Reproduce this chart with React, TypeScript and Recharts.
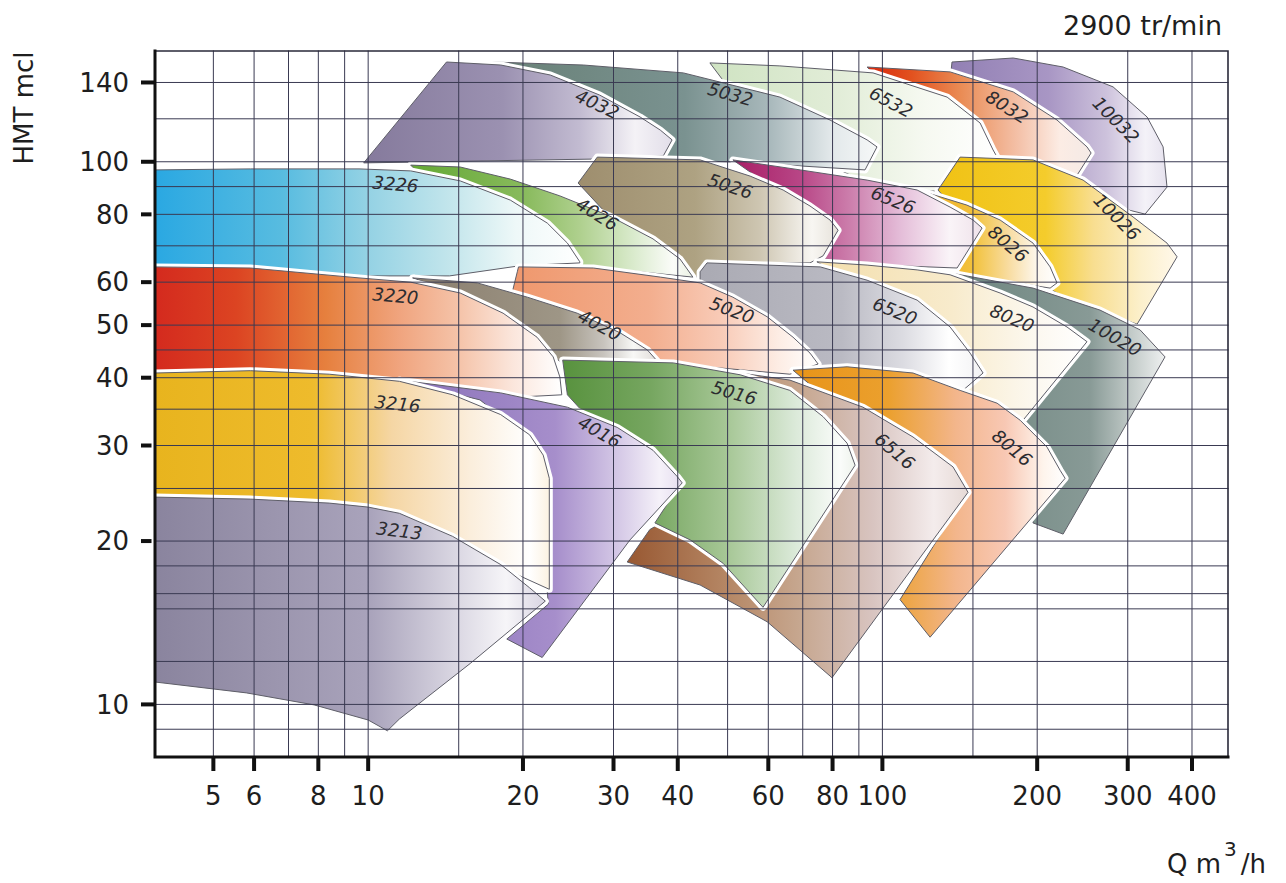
import React from "react"
import { ScatterChart, Scatter, XAxis, YAxis } from "recharts"

type Pt = [number, number]

const FONT = "'DejaVu Sans', 'Liberation Sans', sans-serif"

// axes (log / log)
const Q_DOMAIN: [number, number] = [3.85, 470]
const H_DOMAIN: [number, number] = [8, 160]
const Q_TICKS = [5, 6, 8, 10, 20, 30, 40, 60, 80, 100, 200, 300, 400]
const H_TICKS = [10, 20, 30, 40, 50, 60, 80, 100, 140]
const Q_GRID = [5, 6, 7, 8, 9, 10, 15, 20, 30, 40, 50, 60, 70, 80, 90, 100, 150, 200, 300, 400]
const H_GRID = [9, 10, 12, 15, 16, 18, 20, 25, 30, 35, 40, 45, 50, 60, 70, 80, 90, 100, 120, 140]

// pump ranges: corners as [Q m3/h, HMT mcl]
const R4032: Pt[] = [[14.2, 152.7], [18.1, 150.8], [22.6, 144.5], [28.2, 132.7], [33.8, 120.9], [37, 114.4], [39, 109.7], [37.5, 102.5], [27.9, 101.2], [9.8, 99.5]]
const R5032: Pt[] = [[17.4, 152.7], [26.2, 150.8], [41, 145.8], [63.2, 131.6], [79.1, 119.4], [93.4, 109.7], [97.6, 106.5], [92.5, 96.6], [51.7, 99.9], [28.2, 101.6], [21.6, 124.5]]
const R6532: Pt[] = [[46.2, 152.1], [63.2, 150.2], [95.9, 145.8], [133.6, 131.6], [154.9, 117.9], [164.2, 105.1], [167.1, 102], [151.4, 88.7], [108.2, 88], [94.6, 90.6], [69.2, 105.1], [50.6, 135.6]]
const R8032: Pt[] = [[93.4, 149.5], [135.4, 146.4], [179.6, 134.5], [218.6, 119.4], [250, 106.5], [254.6, 103.8], [239.1, 94.5], [169.4, 94.5], [141.6, 100.8], [108.2, 129.9]]
const R10032: Pt[] = [[136.6, 152.7], [179.6, 155.3], [224.6, 149.5], [281, 137.4], [327.2, 120.9], [351.4, 106.5], [357.7, 89.8], [324.3, 80.1], [265, 84], [211.9, 96.6], [169.4, 105.1], [141.6, 129.9], [136, 147]]

const R3226: Pt[] = [[3.85, 96.6], [5.9, 97], [9.6, 97], [12.1, 96.2], [15.1, 92.2], [18.9, 85], [22.3, 77.1], [24.4, 70.8], [25.8, 65.4], [25.8, 65.1], [19.7, 64.3], [14.4, 61.6], [9.6, 61.6], [5.9, 63.2], [3.85, 63.7]]
const R4026: Pt[] = [[12.1, 98.6], [15.1, 97.8], [18.9, 92.9], [23.6, 86.5], [29.5, 79.4], [35.8, 72.1], [40.4, 66.2], [42.8, 61.3], [33.8, 62.7], [25.8, 64.3], [19.7, 64.3], [16.5, 74.8], [13.2, 90.6]]
const R5026: Pt[] = [[27.9, 102], [44.2, 100.8], [55.3, 94.1], [64.1, 88.7], [72.3, 82.9], [79.1, 78.1], [82, 74.8], [76.7, 67.1], [72.3, 65.1], [46.9, 65.1], [43.6, 61.3], [33.8, 68.8], [25.6, 91.4]]
const R6526: Pt[] = [[51.2, 100.8], [69.2, 96.6], [93.4, 92.5], [116.8, 88.7], [135.4, 82.5], [150.1, 78.1], [156.3, 75.5], [139.7, 63.7], [99, 64.5], [74, 66.5], [66.1, 85]]
const R8026: Pt[] = [[117.3, 88.7], [146, 83.2], [169.4, 78.1], [196.3, 70.8], [211.9, 64], [218.6, 59.8], [211.9, 58.5], [169.4, 60.5], [139.7, 62.7], [129.5, 74.8]]
const R10026: Pt[] = [[141.6, 102], [196.3, 100.8], [245.6, 92.5], [307.3, 79.1], [357.7, 70.8], [374.2, 66.8], [312.9, 50.2], [265, 53.1], [218.6, 57.3], [169.4, 65.9], [128.3, 88.7]]

const R3220: Pt[] = [[3.85, 64], [5.9, 63.7], [9.6, 61.1], [12.1, 60], [15.1, 57.3], [18.3, 52.6], [21.3, 47.5], [22.9, 43.7], [23.6, 40.1], [23.8, 37.2], [18.1, 36.7], [11.5, 38.6], [7.4, 39.6], [3.85, 39.9]]
const R4020: Pt[] = [[12.2, 61.1], [16.3, 59.8], [20.4, 56.3], [25.5, 52.6], [30.9, 48.4], [34.9, 45], [36.6, 42.8], [28.2, 42.6], [23.8, 42.6], [19.7, 49], [14.4, 58]]
const R5020: Pt[] = [[19.6, 64], [27.4, 63.7], [37, 61.3], [44.2, 59.8], [51.2, 56.3], [59.7, 51.8], [67, 47.5], [72.3, 44.4], [75, 42.4], [66.1, 40.6], [44.2, 42], [30.9, 42.4], [24.7, 42.8], [18.9, 55.6], [19.5, 62.7]]
const R6520: Pt[] = [[45.6, 65.1], [59.7, 64.5], [75.7, 64], [93.4, 60.5], [116.8, 55.6], [135.4, 49.6], [148.1, 44.4], [157, 40.8], [142.9, 37.8], [114.7, 40.1], [86.5, 41.5], [69.2, 41], [66.1, 43.1], [52.9, 53.3], [44.2, 58.5], [44.2, 62.7]]
const R8020: Pt[] = [[74.6, 65.4], [93.4, 64.5], [116.8, 63.2], [135.4, 61.9], [169.4, 57.3], [196.3, 54], [228.6, 49.6], [250, 46.6], [185.3, 32.9], [167.1, 35.6], [141.6, 37.6], [123.8, 49], [86.5, 60.5]]
const R10020: Pt[] = [[135.4, 62.4], [196.3, 58.5], [265, 53.3], [317.1, 49], [354.5, 43.7], [224.6, 20.6], [196.3, 21.6], [189.4, 32], [193.7, 36.4], [169.4, 55.6]]

const R3216: Pt[] = [[3.85, 40.8], [5.9, 41.2], [8.4, 40.6], [11.5, 39.4], [14.6, 37.2], [18.1, 34.2], [20.6, 31.4], [21.9, 28.8], [22.5, 26.1], [22.5, 16.3], [18.1, 17.9], [14.6, 20], [11.5, 22.1], [8.4, 23.1], [5.9, 23.5], [3.85, 23.6]]
const R4016: Pt[] = [[11.5, 39.6], [18.1, 37.5], [24.4, 35.3], [30.5, 32.4], [35.8, 29.4], [39.9, 26.3], [40.8, 25.6], [32.3, 20.1], [21.8, 12.2], [18.6, 13.2], [22.4, 15.3], [21.6, 23.8], [20.6, 30.7], [16.5, 36.4]]
const R5016: Pt[] = [[23.9, 43.1], [39.2, 42.6], [52.9, 40.5], [66.1, 37.9], [76.7, 33.9], [85.4, 30.3], [88.5, 27.6], [58.6, 15.1], [49, 18.2], [42.3, 20.1], [36.1, 21.6], [40.4, 25.4], [28.2, 32], [24.4, 37.2]]
const R6516: Pt[] = [[52.9, 40.8], [66.1, 39.6], [91.7, 35.3], [114.7, 31.1], [137.2, 27.4], [146.7, 24.6], [79.8, 11.2], [59.7, 14.2], [44.2, 16.6], [31.9, 18.3], [35.3, 21], [44.2, 23.8], [52.9, 33.4]]
const R8016: Pt[] = [[67, 41.3], [85.4, 41.9], [114.7, 40.8], [141.6, 37.9], [167.1, 35.9], [185.3, 33.4], [209, 29.8], [221.6, 27], [226.6, 26.1], [123.8, 13.3], [108.2, 15.6], [142.9, 23.8], [123.8, 27], [82.7, 34.9]]
const R3213: Pt[] = [[3.85, 24.1], [5.9, 23.9], [8.4, 23.5], [10, 23.1], [11.5, 22.5], [14.6, 20.4], [18.1, 18.1], [20.6, 16.4], [22.1, 15.5], [15.8, 11.9], [11.5, 9.4], [10.9, 8.94], [10, 9.36], [7.85, 9.98], [5.8, 10.5], [3.85, 11]]

// back to front: top row first, right to left inside a row
const TILES: { name: string; pts: Pt[] }[] = [
  { name: "10032", pts: R10032 }, { name: "8032", pts: R8032 }, { name: "6532", pts: R6532 },
  { name: "5032", pts: R5032 }, { name: "4032", pts: R4032 },
  { name: "10026", pts: R10026 }, { name: "8026", pts: R8026 }, { name: "6526", pts: R6526 },
  { name: "5026", pts: R5026 }, { name: "4026", pts: R4026 }, { name: "3226", pts: R3226 },
  { name: "10020", pts: R10020 }, { name: "8020", pts: R8020 }, { name: "6520", pts: R6520 },
  { name: "5020", pts: R5020 }, { name: "4020", pts: R4020 }, { name: "3220", pts: R3220 },
  { name: "8016", pts: R8016 }, { name: "6516", pts: R6516 }, { name: "5016", pts: R5016 },
  { name: "4016", pts: R4016 }, { name: "3216", pts: R3216 },
  { name: "3213", pts: R3213 },
]

// where each model number sits (Q, H)
const LABELS = [
  { name: "4032", q: 27.9, h: 127.8 }, { name: "5032", q: 50.6, h: 133.3 }, { name: "6532", q: 104, h: 128.9 },
  { name: "8032", q: 174.8, h: 126.2 }, { name: "10032", q: 284.7, h: 119.4 },
  { name: "3226", q: 11.3, h: 91 }, { name: "4026", q: 27.9, h: 80.1 }, { name: "5026", q: 50.6, h: 90.2 },
  { name: "6526", q: 104.9, h: 85 }, { name: "8026", q: 175.6, h: 70.6 }, { name: "10026", q: 286, h: 79.1 },
  { name: "3220", q: 11.3, h: 56.6 }, { name: "4020", q: 28.2, h: 50 }, { name: "5020", q: 51, h: 53.3 },
  { name: "6520", q: 105.8, h: 53.1 }, { name: "8020", q: 178.8, h: 51.5 }, { name: "10020", q: 283.5, h: 47.5 },
  { name: "3216", q: 11.4, h: 35.8 }, { name: "4016", q: 28.2, h: 31.8 }, { name: "5016", q: 51.5, h: 37.5 },
  { name: "6516", q: 105.8, h: 29.3 }, { name: "8016", q: 178.8, h: 29.7 },
  { name: "3213", q: 11.5, h: 20.9 },
]

const LABEL_TILT: Record<string, number> = {
  "4032": 25, "5032": 15, "6532": 28, "8032": 32, "10032": 45,
  "3226": 5, "4026": 32, "5026": 18, "6526": 22, "8026": 40, "10026": 45,
  "3220": 5, "4020": 28, "5020": 20, "6520": 22, "8020": 22, "10020": 30,
  "3216": 6, "4016": 30, "5016": 16, "6516": 40, "8016": 40, "3213": 7,
}

// left-to-right colour washes, fading to white at the high-flow end
const FILLS: Record<string, [number, string][]> = {
  "4032": [[0, "#857a9c"], [0.45, "#9b91b1"], [0.7, "#c2bbd1"], [0.88, "#f4f2f6"], [1, "#e2dee9"]],
  "5032": [[0, "#688076"], [0.5, "#7a9290"], [0.72, "#a8b8bb"], [0.88, "#e2e8ea"], [1, "#f6f8f8"]],
  "6532": [[0, "#cfe3c2"], [0.45, "#e2edd8"], [0.75, "#f6f9f1"], [1, "#ffffff"]],
  "8032": [[0, "#d8280e"], [0.2, "#e2521f"], [0.42, "#ea8c55"], [0.68, "#f4c2aa"], [0.86, "#fcece4"], [1, "#f4eae6"]],
  "10032": [[0, "#9280b4"], [0.45, "#a896c4"], [0.72, "#cdc2dc"], [0.9, "#f4f2f8"], [1, "#e6e2ee"]],
  "3226": [[0, "#2aa8e2"], [0.3, "#58bce0"], [0.5, "#94d2e4"], [0.7, "#c4e6ec"], [0.85, "#eef8f8"], [1, "#ffffff"]],
  "4026": [[0, "#64a834"], [0.4, "#88ba5c"], [0.6, "#afd08e"], [0.8, "#dcecd0"], [0.93, "#fbfcf9"], [1, "#eaf1e3"]],
  "5026": [[0, "#9e8e6e"], [0.45, "#aea282"], [0.7, "#cec6b2"], [0.9, "#f8f6f2"], [1, "#e6e2da"]],
  "6526": [[0, "#a81e66"], [0.27, "#b84686"], [0.47, "#cc7eac"], [0.67, "#e4bcd8"], [0.87, "#faf4f8"], [1, "#efe2ea"]],
  "8026": [[0, "#eca824"], [0.4, "#f2c23c"], [0.65, "#f8dca0"], [0.85, "#fdf6ea"], [1, "#ffffff"]],
  "10026": [[0, "#f0c214"], [0.45, "#f4cc2c"], [0.65, "#f8de90"], [0.85, "#fcf0cc"], [1, "#fff8ea"]],
  "3220": [[0, "#d42a1e"], [0.2, "#dc4422"], [0.42, "#e6803e"], [0.6, "#f0a47e"], [0.75, "#f5c4aa"], [0.88, "#fbe6dc"], [1, "#ffffff"]],
  "4020": [[0, "#8a7e6e"], [0.6, "#9e9686"], [0.78, "#c8c4be"], [0.9, "#f8f8f6"], [1, "#e0dcd8"]],
  "5020": [[0, "#ef976c"], [0.45, "#f3ae8e"], [0.68, "#f8cab6"], [0.88, "#fdeee6"], [1, "#ffffff"]],
  "6520": [[0, "#aaaab3"], [0.5, "#babac3"], [0.72, "#dcdce2"], [0.88, "#ffffff"], [1, "#f2f2f4"]],
  "8020": [[0, "#f3deac"], [0.5, "#f8ebcc"], [0.8, "#fcf8ef"], [1, "#ffffff"]],
  "10020": [[0, "#6c847e"], [0.65, "#889a96"], [0.85, "#c4ccca"], [1, "#eef0f0"]],
  "3216": [[0, "#e8b41e"], [0.4, "#eebb2c"], [0.6, "#f5d6a4"], [0.8, "#fbeedc"], [0.95, "#ffffff"], [1, "#fbf2e2"]],
  "4016": [[0, "#8870b8"], [0.55, "#a68ecb"], [0.78, "#d6cae7"], [0.92, "#f5f1f9"], [1, "#e6def0"]],
  "5016": [[0, "#58923e"], [0.3, "#76a660"], [0.57, "#a8c898"], [0.8, "#dceada"], [0.95, "#fafcfa"], [1, "#eef3ec"]],
  "6516": [[0, "#985832"], [0.3, "#b68866"], [0.5, "#c6a68e"], [0.72, "#d8c4c0"], [0.9, "#f4ecec"], [1, "#e6dad6"]],
  "8016": [[0, "#e89418"], [0.35, "#eba02e"], [0.6, "#f3b68c"], [0.78, "#f8c8b4"], [0.92, "#fef4ec"], [1, "#ffffff"]],
  "3213": [[0, "#8a849e"], [0.55, "#a9a3bb"], [0.78, "#dcd9e4"], [0.9, "#f6f5f8"], [1, "#d9d5e2"]],
}

const noDot = () => <g />

function tileLine(name: string) {
  return (props: any) => {
    const pts: { x: number; y: number }[] = props.points || []
    if (!pts.length) return <g />
    const d = pts.map((p, i) => `${i ? "L" : "M"}${p.x.toFixed(1)},${p.y.toFixed(1)}`).join("") + "Z"
    return (
      <g>
        <path d={d} fill="none" stroke="#ffffff" strokeWidth={7} strokeLinejoin="round" />
        <path d={d} fill={`url(#fill-${name})`} stroke="#5e5e68" strokeWidth={1} strokeLinejoin="round" />
      </g>
    )
  }
}

// draws point pairs as separate segments
function segments(stroke: string, width: number) {
  return (props: any) => {
    const pts: { x: number; y: number }[] = props.points || []
    let d = ""
    for (let i = 0; i + 1 < pts.length; i += 2) d += `M${pts[i].x},${pts[i].y}L${pts[i + 1].x},${pts[i + 1].y}`
    return <path d={d} fill="none" stroke={stroke} strokeWidth={width} strokeLinecap="square" />
  }
}

const modelLabel = (props: any) => {
  const { cx, cy } = props
  const name = props.payload?.name ?? props.name
  const tilt = LABEL_TILT[name] ?? 0
  return (
    <text x={cx} y={cy} transform={`rotate(${tilt} ${cx} ${cy})`} textAnchor="middle" dominantBaseline="central"
      fontSize={18} fontStyle="italic" fontFamily={FONT} fill="#2c2c30">
      {name}
    </text>
  )
}

export default function App() {
  const vGrid = Q_GRID.flatMap((q) => [{ x: q, y: H_DOMAIN[0] }, { x: q, y: H_DOMAIN[1] }])
  const hGrid = H_GRID.flatMap((h) => [{ x: Q_DOMAIN[0], y: h }, { x: Q_DOMAIN[1], y: h }])
  const frame = [
    { x: Q_DOMAIN[0], y: H_DOMAIN[1] }, { x: Q_DOMAIN[1], y: H_DOMAIN[1] },
    { x: Q_DOMAIN[1], y: H_DOMAIN[1] }, { x: Q_DOMAIN[1], y: H_DOMAIN[0] },
  ]
  // thick left and bottom axis lines, drawn above the tiles
  const axes = [
    { x: Q_DOMAIN[0], y: H_DOMAIN[1] }, { x: Q_DOMAIN[0], y: H_DOMAIN[0] },
    { x: Q_DOMAIN[0], y: H_DOMAIN[0] }, { x: Q_DOMAIN[1], y: H_DOMAIN[0] },
  ]
  const labelData = LABELS.map((l) => ({ x: l.q, y: l.h, name: l.name }))

  return (
    <div style={{ position: "absolute", left: 0, top: 0, width: 1286, height: 883, background: "#fff" }}>
      <ScatterChart width={1286} height={883} margin={{ top: 51, right: 58, bottom: 66, left: 95 }}>
        <defs>
          {Object.entries(FILLS).map(([name, stops]) => (
            <linearGradient key={name} id={`fill-${name}`} x1="0" y1="0" x2="1" y2="0">
              {stops.map(([o, c], i) => <stop key={i} offset={o} stopColor={c} />)}
            </linearGradient>
          ))}
        </defs>
        <XAxis type="number" dataKey="x" scale="log" domain={Q_DOMAIN} ticks={Q_TICKS} interval={0}
          height={60} tickSize={14} tickMargin={16} axisLine={false}
          tickLine={{ stroke: "#111", strokeWidth: 4 }}
          tick={{ fontSize: 26, fill: "#1e1e1e", fontFamily: FONT }} />
        <YAxis type="number" dataKey="y" scale="log" domain={H_DOMAIN} ticks={H_TICKS} interval={0}
          width={60} tickSize={14} tickMargin={12} axisLine={false}
          tickLine={{ stroke: "#111", strokeWidth: 4 }}
          tick={{ fontSize: 26, fill: "#1e1e1e", fontFamily: FONT }} />
        {TILES.map((t) => (
          <Scatter key={t.name} data={t.pts.map(([q, h]) => ({ x: q, y: h }))} line={tileLine(t.name)}
            shape={noDot} isAnimationActive={false} />
        ))}
        <Scatter data={labelData} shape={modelLabel} isAnimationActive={false} />
        <Scatter data={vGrid} line={segments("#3a3a52", 1)} shape={noDot} isAnimationActive={false} />
        <Scatter data={hGrid} line={segments("#3a3a52", 1)} shape={noDot} isAnimationActive={false} />
        <Scatter data={frame} line={segments("#2a2a3a", 1.6)} shape={noDot} isAnimationActive={false} />
        <Scatter data={axes} line={segments("#111111", 3)} shape={noDot} isAnimationActive={false} />
      </ScatterChart>
      <svg width={1286} height={883} style={{ position: "absolute", left: 0, top: 0, pointerEvents: "none" }}>
        <text x={1222} y={35} textAnchor="end" fontSize={27} fontFamily={FONT} fill="#1e1e1e">2900 tr/min</text>
        <text x={1167} y={873} fontSize={26} fontFamily={FONT} fill="#1e1e1e">
          Q m<tspan dx={3} dy={-17} fontSize={20}>3</tspan><tspan dx={4} dy={17}>/h</tspan>
        </text>
        <text transform="translate(33,108) rotate(-90)" textAnchor="middle" fontSize={26} fontFamily={FONT} fill="#1e1e1e">HMT mcl</text>
      </svg>
    </div>
  )
}
